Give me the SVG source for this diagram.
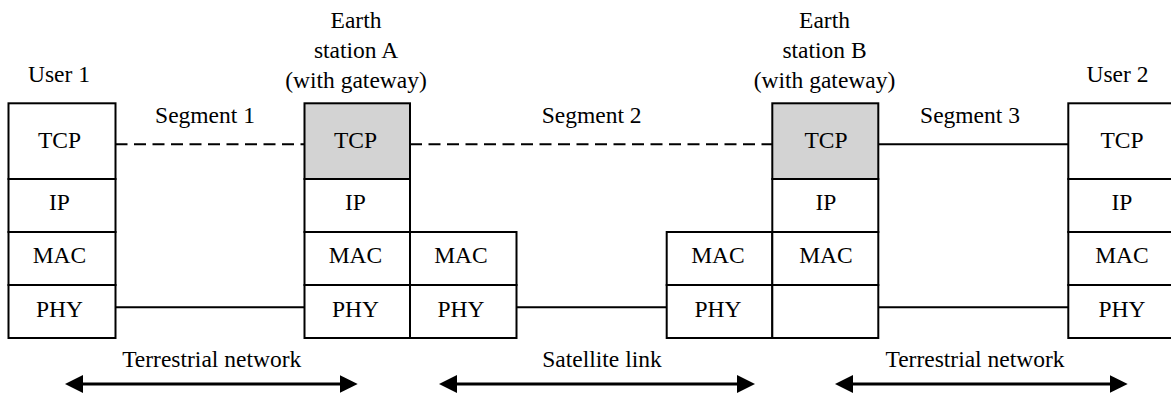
<svg xmlns="http://www.w3.org/2000/svg" width="1171" height="396" viewBox="0 0 1171 396">
<style>
text{font-family:"Liberation Serif","Times New Roman",serif;font-size:23.5px;fill:#000;text-anchor:middle}
.cell{fill:#fff;stroke:#000;stroke-width:2}
.gw{fill:#d3d3d3;stroke:#000;stroke-width:2}
.link{stroke:#000;stroke-width:2;fill:none}
.dash{stroke-dasharray:12,6.5}
.span{stroke:#000;stroke-width:3;fill:none;marker-start:url(#ah);marker-end:url(#ah)}
</style>
<defs>
<marker id="ah" markerUnits="userSpaceOnUse" markerWidth="18" markerHeight="18" refX="8" refY="9" orient="auto-start-reverse" viewBox="0 0 18 18">
<path d="M0,0 L18,9 L0,18 z" fill="#000"/>
</marker>
</defs>
<rect width="1171" height="396" fill="#fff"/>

<g id="connectors">
<line class="link dash" x1="115.5" y1="144.3" x2="304.5" y2="144.3"/>
<line class="link dash" x1="410" y1="144.3" x2="772.3" y2="144.3"/>
<line class="link" x1="878.3" y1="144.3" x2="1068.3" y2="144.3"/>
<line class="link" x1="115.5" y1="307.3" x2="304.5" y2="307.3"/>
<line class="link" x1="516.5" y1="307.3" x2="666.7" y2="307.3"/>
<line class="link" x1="878.3" y1="307.3" x2="1068.3" y2="307.3"/>
<line class="span" x1="75" y1="384" x2="347.7" y2="384"/>
<line class="span" x1="449" y1="384" x2="745" y2="384"/>
<line class="span" x1="845" y1="384" x2="1117.7" y2="384"/>
</g>

<g id="user1">
<rect class="cell" x="8.5" y="103.3" width="107" height="75.7"/>
<rect class="cell" x="8.5" y="179" width="107" height="53"/>
<rect class="cell" x="8.5" y="232" width="107" height="53"/>
<rect class="cell" x="8.5" y="285" width="107" height="53"/>
<text x="59.5" y="147.5">TCP</text>
<text x="59.5" y="209.5">IP</text>
<text x="59.5" y="262.5">MAC</text>
<text x="59.5" y="316.5">PHY</text>
<text x="59" y="81.7">User 1</text>
</g>

<g id="earthA">
<rect class="gw" x="304.5" y="103.3" width="105.5" height="75.7"/>
<rect class="cell" x="304.5" y="179" width="105.5" height="53"/>
<rect class="cell" x="304.5" y="232" width="105.5" height="53"/>
<rect class="cell" x="304.5" y="285" width="105.5" height="53"/>
<text x="355.5" y="147.5">TCP</text>
<text x="355.5" y="209.5">IP</text>
<text x="355.5" y="262.5">MAC</text>
<text x="355.5" y="316.5">PHY</text>
<text x="356" y="28.3">Earth</text>
<text x="356" y="58">station A</text>
<text x="356" y="87.7">(with gateway)</text>
</g>

<g id="earthA-sat">
<rect class="cell" x="410" y="232" width="106.5" height="53"/>
<rect class="cell" x="410" y="285" width="106.5" height="53"/>
<text x="461" y="262.5">MAC</text>
<text x="461" y="316.5">PHY</text>
</g>

<g id="earthB-sat">
<rect class="cell" x="666.7" y="232" width="105.6" height="53"/>
<rect class="cell" x="666.7" y="285" width="105.6" height="53"/>
<text x="718" y="262.5">MAC</text>
<text x="718" y="316.5">PHY</text>
</g>

<g id="earthB">
<rect class="gw" x="772.3" y="103.3" width="106" height="75.7"/>
<rect class="cell" x="772.3" y="179" width="106" height="53"/>
<rect class="cell" x="772.3" y="232" width="106" height="53"/>
<rect class="cell" x="772.3" y="285" width="106" height="53"/>
<text x="826" y="147.5">TCP</text>
<text x="826" y="209.5">IP</text>
<text x="826" y="262.5">MAC</text>
<text x="824.5" y="28.3">Earth</text>
<text x="824.5" y="58">station B</text>
<text x="824.5" y="87.7">(with gateway)</text>
</g>

<g id="user2">
<rect class="cell" x="1068.3" y="103.3" width="107" height="75.7"/>
<rect class="cell" x="1068.3" y="179" width="107" height="53"/>
<rect class="cell" x="1068.3" y="232" width="107" height="53"/>
<rect class="cell" x="1068.3" y="285" width="107" height="53"/>
<text x="1122" y="147.5">TCP</text>
<text x="1122" y="209.5">IP</text>
<text x="1122" y="262.5">MAC</text>
<text x="1122" y="316.5">PHY</text>
<text x="1117.5" y="81.7">User 2</text>
</g>

<g id="labels">
<text x="205" y="123.3">Segment 1</text>
<text x="591.7" y="123.3">Segment 2</text>
<text x="970" y="123.3">Segment 3</text>
<text x="211.7" y="366.7">Terrestrial network</text>
<text x="602" y="366.7">Satellite link</text>
<text x="975" y="366.7">Terrestrial network</text>
</g>
</svg>
